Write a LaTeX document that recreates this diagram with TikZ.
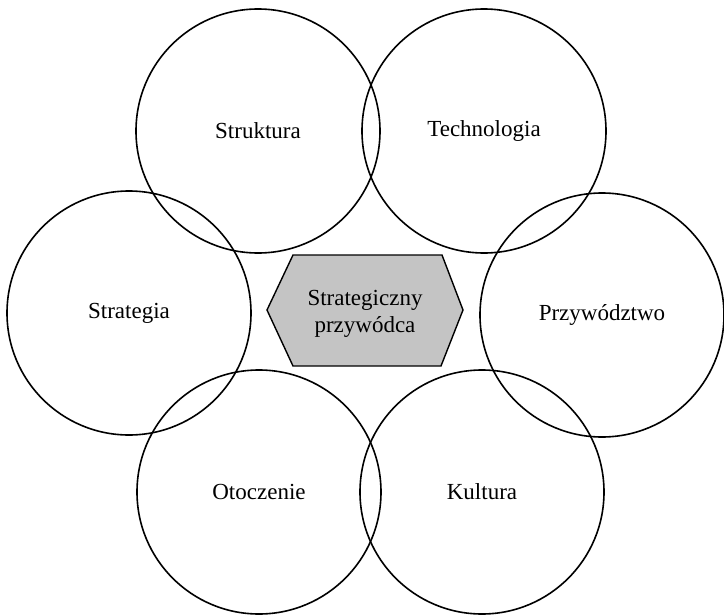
\documentclass[tikz,border=0pt]{standalone}
\usepackage{fontspec}
\setmainfont{Liberation Serif}
\begin{document}
\begin{tikzpicture}[x=1pt,y=-1pt,
  ring/.style={circle,draw=black,line width=1.6pt,minimum size=244pt,inner sep=0pt,
    font=\fontsize{23}{27}\selectfont},
  hexfill/.style={draw=black,line width=1.4pt,fill=black!23},
  hextext/.style={align=center,font=\fontsize{23}{27}\selectfont,inner sep=0pt}]
\useasboundingbox (0,0) rectangle (724,616);
\node[ring] (struktura) at (258,131) {Struktura};
\node[ring] (technologia) at (484,131) {Technologia};
\node[ring] (strategia) at (129,313) {Strategia};
\node[ring] (przywodztwo) at (602,315) {Przywództwo};
\node[ring] (otoczenie) at (259,492) {Otoczenie};
\node[ring] (kultura) at (482,492) {Kultura};
\draw[hexfill] (293,255) -- (442,255) -- (463,310) -- (441,366) -- (293,366) -- (267,310) -- cycle;
\node[hextext] (lider) at (365,314) {Strategiczny\\przywódca};
\end{tikzpicture}
\end{document}
